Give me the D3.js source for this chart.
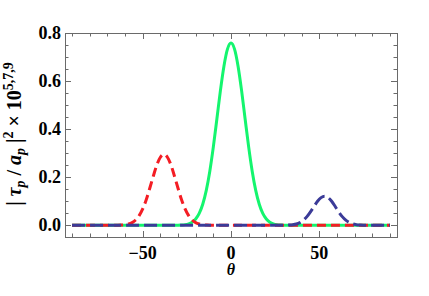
<!DOCTYPE html>
<html><head><meta charset="utf-8">
<script src="https://cdn.jsdelivr.net/npm/d3@7"></script>
<style>html,body{margin:0;padding:0;background:#fff;}svg{display:block;}</style>
</head><body>
<svg id="c" width="429" height="296"></svg>
<script>
// Data
const greenTheta = [-90, -30, -28, -26, -24, -22, -20, -18, -16, -14, -12, -10, -8, -6, -4, -2, 0, 2, 4, 6, 8, 10, 12, 14, 16, 18, 20, 22, 24, 26, 28, 30, 90];
const greenVals  = [0, 0, 0.0010, 0.0025, 0.0059, 0.0128, 0.0260, 0.0493, 0.0875, 0.145, 0.225, 0.326, 0.442, 0.560, 0.662, 0.733, 0.758, 0.733, 0.662, 0.560, 0.442, 0.326, 0.225, 0.145, 0.0875, 0.0493, 0.0260, 0.0128, 0.0059, 0.0025, 0.0010, 0, 0];
const redTheta = [-90, -64, -62, -60, -58, -56, -54, -52, -50, -48, -46, -44, -42, -40, -38, -36, -34, -32, -30, -28, -26, -24, -22, -20, -18, -16, -14, -12, 90];
const redVals  = [0, 0, 0.0008, 0.0021, 0.0050, 0.0108, 0.0217, 0.040, 0.068, 0.106, 0.154, 0.204, 0.251, 0.283, 0.295, 0.283, 0.251, 0.204, 0.154, 0.106, 0.068, 0.040, 0.0217, 0.0108, 0.0050, 0.0021, 0.0008, 0, 0];
const blueTheta = [-90, 31, 33, 35, 37, 39, 41, 43, 45, 47, 49, 51, 53, 55, 57, 59, 61, 63, 65, 67, 69, 71, 73, 75, 90];
const blueVals  = [0, 0, 0.0009, 0.0023, 0.0053, 0.0111, 0.0209, 0.0357, 0.0554, 0.0780, 0.0996, 0.115, 0.121, 0.115, 0.0996, 0.0780, 0.0554, 0.0357, 0.0209, 0.0111, 0.0053, 0.0023, 0.0009, 0, 0];
const xTickLabels = [-50, 0, 50];
const yTickLabels = [0.0, 0.2, 0.4, 0.6, 0.8];

const svg = d3.select("#c");
const L = 65, R = 397, T = 33, B = 237;
const x = d3.scaleLinear().domain([-94, 94]).range([L, R]);
const y = d3.scaleLinear().domain([-0.049, 0.8]).range([B, T]);
const frameColor = "#6a6a6a";
const fontFam = "'Liberation Serif','Times New Roman',serif";

// frame
svg.append("rect").attr("x", L + 0.5).attr("y", T + 0.5).attr("width", R - L).attr("height", B - T)
  .attr("fill", "none").attr("stroke", frameColor).attr("stroke-width", 1);

// ticks
const xMinor = d3.range(-90, 91, 10);
const yMinor = d3.range(0, 0.8001, 0.05);
const tk = svg.append("g").attr("stroke", frameColor).attr("stroke-width", 1);
xMinor.forEach(v => {
  const major = xTickLabels.includes(v);
  const len = major ? 6 : 3.5;
  const px = Math.round(x(v)) + 0.5;
  tk.append("line").attr("x1", px).attr("x2", px).attr("y1", B).attr("y2", B - len);
  tk.append("line").attr("x1", px).attr("x2", px).attr("y1", T).attr("y2", T + len);
});
yMinor.forEach(v => {
  const major = yTickLabels.some(t => Math.abs(t - v) < 1e-6);
  const len = major ? 6 : 3.5;
  const py = Math.round(y(v)) + 0.5;
  tk.append("line").attr("x1", L).attr("x2", L + len).attr("y1", py).attr("y2", py);
  tk.append("line").attr("x1", R).attr("x2", R - len).attr("y1", py).attr("y2", py);
});

// tick labels
svg.selectAll(".xt").data(xTickLabels).enter().append("text")
  .attr("x", d => x(d)).attr("y", 258.5).attr("text-anchor", "middle")
  .attr("font-family", fontFam).attr("font-weight", "bold").attr("font-size", 18)
  .text(d => d < 0 ? "\u2212" + Math.abs(d) : String(d));
svg.selectAll(".yt").data(yTickLabels).enter().append("text")
  .attr("x", 61).attr("y", d => y(d) + 6).attr("text-anchor", "end")
  .attr("font-family", fontFam).attr("font-weight", "bold").attr("font-size", 18)
  .text(d => d.toFixed(1));

// axis titles
svg.append("text").attr("x", 231).attr("y", 275).attr("text-anchor", "middle")
  .attr("font-family", fontFam).attr("font-weight", "bold").attr("font-style", "italic").attr("font-size", 16)
  .text("\u03B8");

const yl = svg.append("text").attr("transform", "translate(21,134) rotate(-90)")
  .attr("text-anchor", "middle").attr("font-family", fontFam).attr("font-weight", "bold").attr("font-size", 20);
yl.append("tspan").text("| ");
yl.append("tspan").attr("font-style", "italic").text("\u03C4");
yl.append("tspan").attr("font-style", "italic").attr("font-size", 14).attr("dy", 4).text("p");
yl.append("tspan").attr("dy", -4).text(" / ");
yl.append("tspan").attr("font-style", "italic").text("a");
yl.append("tspan").attr("font-style", "italic").attr("font-size", 14).attr("dy", 4).text("p");
yl.append("tspan").attr("dy", -4).text(" |");
yl.append("tspan").attr("font-size", 14).attr("dy", -8).text("2");
yl.append("tspan").attr("dy", 8).text(" \u00D7 10");
yl.append("tspan").attr("font-size", 14).attr("dy", -8).text("5,7,9");

// curves
const clipId = "plotclip";
svg.append("clipPath").attr("id", clipId).append("rect").attr("x", L).attr("y", T).attr("width", R - L).attr("height", B - T);
const line = d3.line().x(d => x(d[0])).y(d => y(d[1])).curve(d3.curveMonotoneX);
const g = svg.append("g").attr("clip-path", `url(#${clipId})`).attr("fill", "none").attr("stroke-width", 3);
g.append("path").attr("d", line(d3.zip(greenTheta, greenVals))).attr("stroke", "#14f56e");
g.append("path").attr("d", line(d3.zip(redTheta, redVals))).attr("stroke", "#f41d24").attr("stroke-dasharray", "9,5");
g.append("path").attr("d", line(d3.zip(blueTheta, blueVals))).attr("stroke", "#3b3b98").attr("stroke-dasharray", "13,5");
</script>
</body></html>
